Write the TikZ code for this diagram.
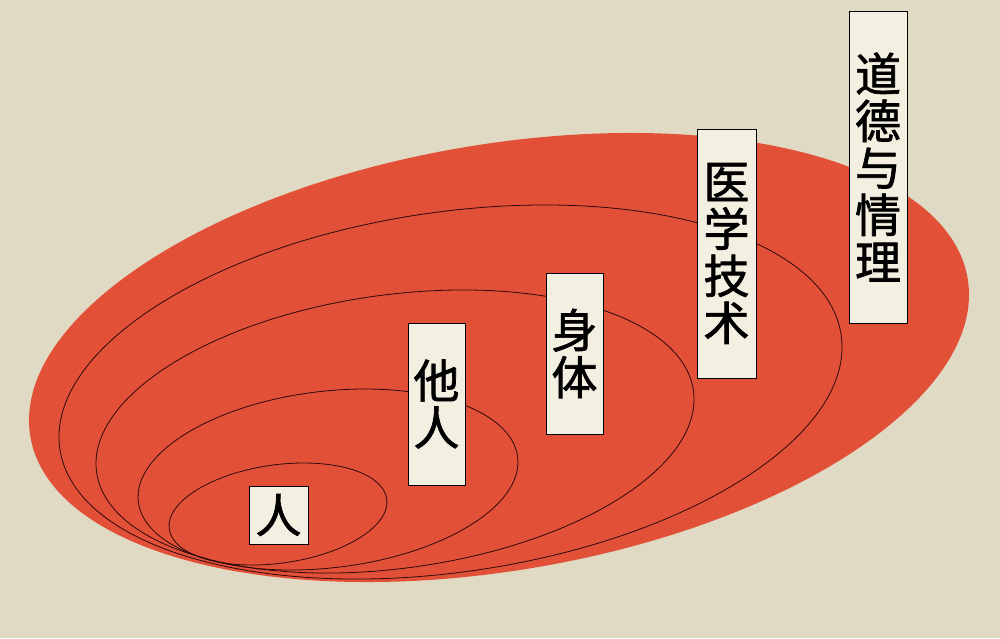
\documentclass[tikz,border=0pt]{standalone}
\usepackage{fontspec}
\newfontfamily\cjk{Noto Sans CJK SC}[FakeBold=1.5]
\definecolor{bgc}{RGB}{224,217,196}
\definecolor{redc}{RGB}{226,80,56}
\definecolor{boxc}{RGB}{243,239,225}
\definecolor{linec}{RGB}{45,10,10}
\tikzset{
  ring/.style={draw=linec, line width=0.8pt},
  lbl/.style={draw=black, line width=0.8pt, fill=boxc, inner sep=0pt, align=center,
    font=\cjk\fontsize{46}{47}\selectfont, text=black},
}
\begin{document}
\begin{tikzpicture}[x=1pt,y=1pt]
\useasboundingbox (0,0) rectangle (1000,-638);
\fill[bgc] (0,0) rectangle (1000,-638);
% outer red ellipse
\fill[redc, rotate around={9.57:(499,-357.5)}] (499,-357.5) ellipse [x radius=475.3, y radius=213.1];
% nested rings
\draw[ring, rotate around={8.29:(450.5,-392)}] (450.5,-392) ellipse [x radius=394.8, y radius=180.0];
\draw[ring, rotate around={7.75:(395,-431.5)}] (395,-431.5) ellipse [x radius=301.2, y radius=136.8];
\draw[ring, rotate around={6.70:(328,-479.5)}] (328,-479.5) ellipse [x radius=191.0, y radius=88.3];
\draw[ring, rotate around={7.87:(278,-514)}] (278,-514) ellipse [x radius=109.8, y radius=49.2];
% labels
\node[lbl, minimum width=59pt, minimum height=58pt] (ren) at (278.5,-515) {人};
\node[lbl, minimum width=57pt, minimum height=162pt] (taren) at (436.5,-404) {他\\人};
\node[lbl, minimum width=57pt, minimum height=161pt] (shenti) at (574.5,-353.5) {身\\体};
\node[lbl, minimum width=59pt, minimum height=249pt] (yixue) at (726.5,-253.5) {医\\学\\技\\术};
\node[lbl, minimum width=58pt, minimum height=312pt] (daode) at (878,-167) {道\\德\\与\\情\\理};
\end{tikzpicture}
\end{document}
